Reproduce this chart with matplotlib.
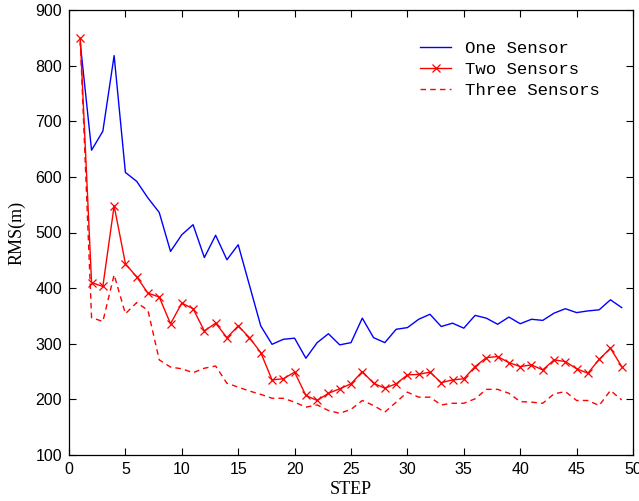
import numpy as np
import matplotlib
matplotlib.use('Agg')
import matplotlib.pyplot as plt

# RMS error per step for each sensor configuration
steps = np.arange(1, 50)

one_sensor = [840, 648, 682, 818, 608, 592, 562, 536, 466, 496,
              514, 455, 495, 451, 478, 405, 332, 299, 308, 310,
              274, 302, 318, 298, 302, 346, 311, 302, 326, 329,
              344, 353, 331, 337, 328, 351, 346, 335, 348, 336,
              344, 342, 355, 363, 356, 359, 361, 379, 365]

two_sensors = [849, 410, 403, 548, 444, 420, 391, 384, 336, 373,
               363, 323, 337, 311, 332, 311, 284, 235, 237, 249,
               207, 198, 211, 219, 228, 250, 229, 220, 228, 244,
               245, 249, 230, 235, 237, 259, 275, 277, 266, 259,
               262, 253, 271, 268, 255, 247, 272, 292, 259]

three_sensors = [845, 347, 340, 424, 354, 374, 360, 271, 258, 255,
                 248, 256, 260, 229, 222, 215, 209, 202, 202, 195,
                 186, 190, 180, 175, 182, 198, 189, 177, 195, 213,
                 204, 204, 190, 193, 193, 201, 218, 218, 211, 196,
                 195, 193, 210, 214, 198, 198, 189, 216, 199]

series_labels = ['One Sensor', 'Two Sensors', 'Three Sensors']

fig = plt.figure(figsize=(6.39, 5.01), dpi=100)
ax = fig.add_axes([69/639, 46/501, 564/639, 445/501])

ax.plot(steps, one_sensor, color='#0000ff', lw=1.0, label=series_labels[0])
ax.plot(steps, two_sensors, color='#ff0000', lw=1.0, marker='x', ms=6,
        mew=0.9, label=series_labels[1])
ax.plot(steps, three_sensors, color='#ff0000', lw=1.0, ls=(0, (4, 3)),
        label=series_labels[2])

ax.set_xlim(0, 50)
ax.set_ylim(100, 900)
ax.set_xticks(np.arange(0, 51, 5))
ax.set_yticks(np.arange(100, 901, 100))
ax.tick_params(direction='in', top=True, right=True, length=5, width=0.8,
               labelsize=11.5, pad=5)
for lab in ax.get_xticklabels() + ax.get_yticklabels():
    lab.set_family('Liberation Sans')
for sp in ax.spines.values():
    sp.set_linewidth(0.9)

ax.set_xlabel('STEP', family='Liberation Serif', fontsize=13, labelpad=3)
ax.set_ylabel('RMS(m)', family='Liberation Serif', fontsize=13, labelpad=7)

leg = ax.legend(loc='upper left', bbox_to_anchor=(0.595, 0.965), frameon=False,
                prop={'family': 'Liberation Mono', 'size': 12.5},
                handlelength=1.8, handletextpad=0.8, labelspacing=0.33)

fig.savefig('out.png', dpi=100)
